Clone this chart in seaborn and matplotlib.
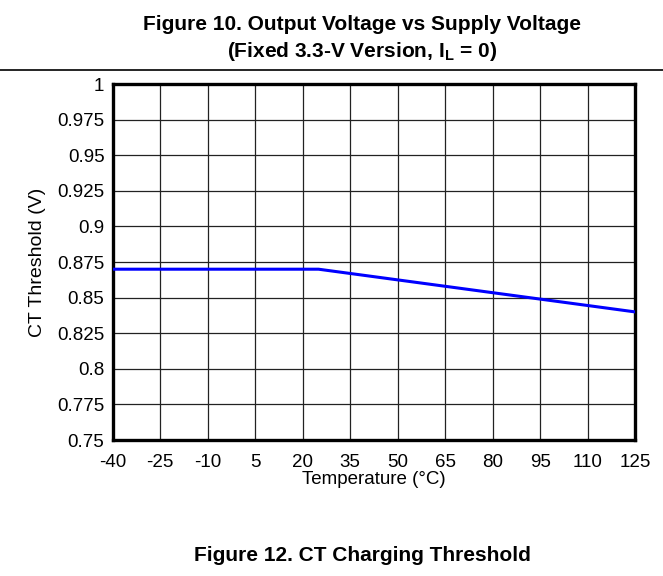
import matplotlib
matplotlib.use("Agg")
import matplotlib.pyplot as plt
import seaborn as sns
import pandas as pd

# Data
temperature = [-40, 25, 125]
threshold = [0.87, 0.87, 0.84]
x_ticks = [-40, -25, -10, 5, 20, 35, 50, 65, 80, 95, 110, 125]
y_ticks = [0.75, 0.775, 0.8, 0.825, 0.85, 0.875, 0.9, 0.925, 0.95, 0.975, 1.0]

df = pd.DataFrame({"temp": temperature, "ct": threshold})

sns.set_style("white")
plt.rcParams['font.family'] = ['Liberation Sans', 'DejaVu Sans']
plt.rcParams['text.color'] = 'black'
plt.rcParams['axes.labelcolor'] = 'black'
plt.rcParams['mathtext.fontset'] = 'custom'
plt.rcParams['mathtext.rm'] = 'Liberation Sans:bold'
plt.rcParams['mathtext.default'] = 'rm'

fig = plt.figure(figsize=(6.63, 5.76), dpi=100)
ax = fig.add_axes([0.170, 0.236, 0.788, 0.618])

sns.lineplot(data=df, x="temp", y="ct", ax=ax, color="#0000ff", linewidth=2.2, zorder=3)

ax.set_xlim(-40, 125)
ax.set_ylim(0.75, 1.0)
ax.set_xticks(x_ticks)
ax.set_yticks(y_ticks)
ax.set_xticklabels([str(t) for t in x_ticks])
ax.set_yticklabels(["%g" % t for t in y_ticks])
ax.tick_params(length=0, labelsize=13.5, colors="black")
ax.tick_params(axis="x", pad=10)
ax.tick_params(axis="y", pad=6)
ax.grid(True, color="#222222", linewidth=0.9)

for s in ax.spines.values():
    s.set_visible(True)
    s.set_color("black")
    s.set_linewidth(2.4)

ax.set_xlabel("Temperature (°C)", fontsize=13.5, labelpad=0)
ax.set_ylabel("CT Threshold (V)", fontsize=14, labelpad=8)

# Titles and separator line
fig.text(0.546, 0.958, "Figure 10. Output Voltage vs Supply Voltage",
         ha="center", va="center", fontsize=15, fontweight="bold")
fig.text(0.546, 0.911, r"(Fixed 3.3-V Version, I$_L$ = 0)",
         ha="center", va="center", fontsize=15, fontweight="bold")
fig.add_artist(plt.Line2D([0, 1], [0.879, 0.879], color="black", linewidth=1.2))
fig.text(0.546, 0.035, "Figure 12. CT Charging Threshold",
         ha="center", va="center", fontsize=15, fontweight="bold")

fig.savefig("out.png", dpi=100)
